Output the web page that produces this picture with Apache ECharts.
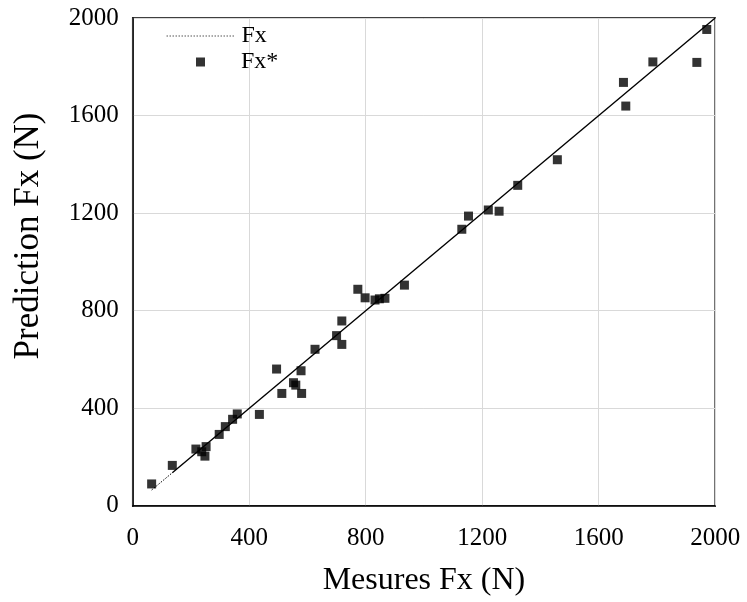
<!DOCTYPE html>
<html>
<head>
<meta charset="utf-8">
<script src="https://cdn.jsdelivr.net/npm/echarts@6/dist/echarts.min.js"></script>
<style>
html,body{margin:0;padding:0;background:#fff;}
#chart{width:747px;height:602px;}
</style>
</head>
<body>
<div id="chart"></div>
<script>
// Measured Fx (N)
const measured = [65, 136, 217, 237, 252, 248, 297, 318, 343, 359, 435, 494, 512, 552, 560, 578, 580, 626, 700, 718, 718, 773, 798, 832, 847, 866, 933, 1130, 1153, 1221, 1258, 1322, 1458, 1685, 1693, 1786, 1937, 1971];
// Predicted Fx* (N)
const predicted = [90, 166, 233, 222, 243, 204, 293, 325, 355, 377, 375, 561, 461, 505, 495, 554, 461, 642, 698, 758, 662, 888, 853, 844, 849, 851, 905, 1134, 1188, 1213, 1208, 1314, 1419, 1736, 1639, 1820, 1818, 1953];
// Fx reference line (y = x): dotted start, solid continuation
const fxDotted = [65, 136];
const fxSolid = [136, 2000];
const axisTicks = [0, 400, 800, 1200, 1600, 2000];

const scatterData = measured.map((m, i) => [m, predicted[i]]);
const font = '"Liberation Serif", "Times New Roman", serif';

const chart = echarts.init(document.getElementById('chart'), null, {renderer: 'canvas'});
chart.setOption({
  animation: false,
  backgroundColor: '#fff',
  grid: {left: 132.7, right: 31.8, top: 18, bottom: 96.1, show: true, borderColor: '#000', borderWidth: 1.5, containLabel: false},
  legend: [
    {
      left: 161, top: 19, orient: 'vertical', itemWidth: 68, itemHeight: 14,
      textStyle: {fontFamily: font, fontSize: 24, color: '#000', padding: [0, 0, 0, 2]},
      itemStyle: {color: 'transparent', borderColor: 'transparent', borderWidth: 0},
      lineStyle: {color: '#555', width: 1, type: [1.5, 1.5]},
      data: ['Fx'],
      selectedMode: false
    },
    {
      left: 191, top: 45, orient: 'vertical', itemWidth: 9, itemHeight: 9,
      textStyle: {fontFamily: font, fontSize: 24, color: '#000', padding: [0, 0, 0, 31]},
      data: [{name: 'Fx*', icon: 'rect'}],
      selectedMode: false
    }
  ],
  xAxis: {
    type: 'value', min: axisTicks[0], max: axisTicks[axisTicks.length - 1], interval: 400,
    name: 'Mesures Fx (N)', nameLocation: 'middle', nameGap: 59,
    nameTextStyle: {fontFamily: font, fontSize: 32, color: '#000'},
    axisLine: {show: true, lineStyle: {color: '#000', width: 1.5}},
    axisTick: {show: false},
    axisLabel: {fontFamily: font, fontSize: 25, color: '#000', margin: 20, formatter: v => String(v)},
    splitLine: {show: true, lineStyle: {color: '#d9d9d9', width: 1}}
  },
  yAxis: {
    type: 'value', min: axisTicks[0], max: axisTicks[axisTicks.length - 1], interval: 400,
    name: 'Prediction Fx (N)', nameLocation: 'middle', nameGap: 86, nameRotate: 90,
    nameTextStyle: {fontFamily: font, fontSize: 35, color: '#000', padding: [0, 0, 0, 52]},
    axisLine: {show: true, lineStyle: {color: '#000', width: 1.5}},
    axisTick: {show: false},
    axisLabel: {fontFamily: font, fontSize: 25, color: '#000', margin: 14, formatter: v => String(v)},
    splitLine: {show: true, lineStyle: {color: '#d9d9d9', width: 1}}
  },
  series: [
    {
      name: 'Fx', type: 'line', showSymbol: false, symbol: 'none', silent: true,
      data: fxDotted.map(v => [v, v]),
      itemStyle: {color: '#000'},
      lineStyle: {color: '#000', width: 1, type: [1.5, 1.5]}, z: 3
    },
    {
      name: 'Fx line', type: 'line', showSymbol: false, symbol: 'none', silent: true,
      data: fxSolid.map(v => [v, v]),
      itemStyle: {color: '#000'},
      lineStyle: {color: '#000', width: 1.4}, z: 3
    },
    {
      name: 'Fx*', type: 'scatter', symbol: 'rect', symbolSize: 9,
      itemStyle: {color: '#000'},
      data: scatterData, z: 4
    }
  ]
});
</script>
</body>
</html>
